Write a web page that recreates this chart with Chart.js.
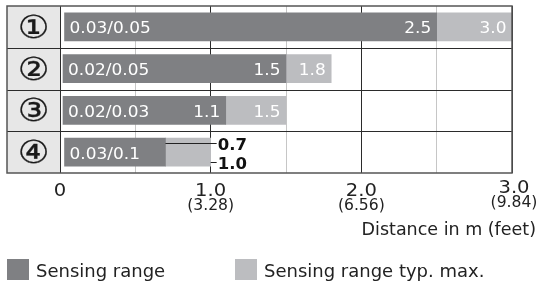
<!DOCTYPE html>
<html>
<head>
<meta charset="utf-8">
<script src="https://cdn.jsdelivr.net/npm/chart.js@4"></script>
<style>
  html, body { margin: 0; padding: 0; background: #fff; }
  canvas { display: block; }
</style>
</head>
<body>
<canvas id="chart" width="541" height="281"></canvas>
<script>
const rows = ["①", "②", "③", "④"];
const minDistance = [0.03, 0.02, 0.02, 0.03];
const minLabels = ["0.03/0.05", "0.02/0.05", "0.02/0.03", "0.03/0.1"];
const sensingRange = [2.5, 1.5, 1.1, 0.7];
const typMax = [3.0, 1.8, 1.5, 1.0];
const meterTicks = [0, 1, 2, 3];
const meterLabels = ["0", "1.0", "2.0", "3.0"];
const feetLabels = ["", "(3.28)", "(6.56)", "(9.84)"];
const seriesNames = ["Sensing range", "Sensing range typ. max."];
const axisTitle = "Distance in m (feet)";

const DARK = "#7f8083";
const LIGHT = "#bcbdc0";
const FONT = '"DejaVu Sans", sans-serif';

// draws text, optionally stretched horizontally (sx) to match the wider figures of the original
function txt(ctx, str, x, y, size, opts = {}) {
  ctx.save();
  ctx.font = (opts.bold ? "bold " : "") + size + "px " + FONT;
  ctx.fillStyle = opts.color || "#222";
  ctx.textBaseline = "alphabetic";
  ctx.textAlign = "left";
  const sx = opts.sx || 1;
  const w = ctx.measureText(str).width * sx;
  let left = x;
  if (opts.align === "right") left = x - w;
  else if (opts.align === "center") left = x - w / 2;
  ctx.translate(left, y);
  ctx.scale(sx, 1);
  ctx.fillText(str, 0, 0);
  if (opts.stroke) {
    ctx.strokeStyle = ctx.fillStyle;
    ctx.lineWidth = opts.stroke;
    ctx.strokeText(str, 0, 0);
  }
  ctx.restore();
  return w;
}

function textWidth(ctx, str, size, sx) {
  ctx.save();
  ctx.font = size + "px " + FONT;
  const w = ctx.measureText(str).width * sx;
  ctx.restore();
  return w;
}

const tablePlugin = {
  id: "table",
  beforeDraw(chart) {
    const { ctx, chartArea: a } = chart;
    ctx.save();
    ctx.fillStyle = "#fff";
    ctx.fillRect(0, 0, chart.width, chart.height);
    ctx.fillStyle = "#e7e7e7";
    ctx.fillRect(7, a.top, a.left - 7, a.bottom - a.top);
    ctx.restore();
  },
  afterDraw(chart) {
    const { ctx, chartArea: a, scales: { x, y } } = chart;

    // row dividers and frame
    ctx.save();
    ctx.strokeStyle = "#2b2b2b";
    ctx.lineWidth = 1;
    for (let i = 0; i < rows.length - 1; i++) {
      const yy = Math.round((y.getPixelForValue(i) + y.getPixelForValue(i + 1)) / 2) + 0.5;
      ctx.beginPath();
      ctx.moveTo(7, yy);
      ctx.lineTo(a.right, yy);
      ctx.stroke();
    }
    ctx.strokeStyle = "#555";
    ctx.lineWidth = 1.5;
    ctx.strokeRect(7, a.top, a.right - 7, a.bottom - a.top);
    ctx.restore();

    // row numbers
    rows.forEach((r, i) => {
      txt(ctx, r, (7 + a.left) / 2, y.getPixelForValue(i) + 11, 32, { align: "center", sx: 1.1, color: "#1a1a1a", stroke: 0.3 });
    });

    // bar labels
    const dark = chart.getDatasetMeta(0).data;
    const light = chart.getDatasetMeta(1).data;
    rows.forEach((r, i) => {
      const d = dark[i], l = light[i];
      const base = d.y + 6.5;
      const rangeTxt = sensingRange[i].toFixed(1);
      const maxTxt = typMax[i].toFixed(1);
      txt(ctx, minLabels[i], d.base + 5, base, 15, { color: "#fff", sx: 1.13 });
      const need = textWidth(ctx, minLabels[i], 15, 1.13) + textWidth(ctx, rangeTxt, 15, 1.13) + 20;
      if (need < d.x - d.base) {
        txt(ctx, rangeTxt, d.x - 5.5, base, 15, { color: "#fff", align: "right", sx: 1.13 });
        txt(ctx, maxTxt, l.x - 5.5, base, 15, { color: "#fff", align: "right", sx: 1.13 });
      } else {
        // values pulled out to the right with leader lines
        const lx = l.x + 7;
        const y1 = d.y - d.height / 2 + 5;
        const y2 = l.y + l.height / 2 - 4;
        ctx.save();
        ctx.strokeStyle = "#222";
        ctx.lineWidth = 1;
        ctx.beginPath();
        ctx.moveTo(d.x, Math.round(y1) + 0.5);
        ctx.lineTo(lx - 1, Math.round(y1) + 0.5);
        ctx.moveTo(l.x, Math.round(y2) + 0.5);
        ctx.lineTo(lx - 1, Math.round(y2) + 0.5);
        ctx.stroke();
        ctx.restore();
        txt(ctx, rangeTxt, lx, y1 + 6.5, 16.5, { bold: true, color: "#111" });
        txt(ctx, maxTxt, lx, y2 + 6.5, 16.5, { bold: true, color: "#111" });
      }
    });

    // x axis labels
    const last = meterTicks.length - 1;
    meterTicks.forEach((v, i) => {
      const px = x.getPixelForValue(v) + (i === last ? 2 : 0);
      const dy = i === last ? -3 : 0;
      txt(ctx, meterLabels[i], px, a.bottom + 23 + dy, 17, { align: "center", sx: 1.15 });
      if (feetLabels[i]) txt(ctx, feetLabels[i], px, a.bottom + 37 + dy, 15, { align: "center", sx: 1.04 });
    });
    txt(ctx, axisTitle, 536, 235, 17.5, { align: "right" });

    // legend
    const colors = [DARK, LIGHT];
    const legendX = [7, 235];
    seriesNames.forEach((name, i) => {
      ctx.fillStyle = colors[i];
      ctx.fillRect(legendX[i], 259, 22, 21);
      txt(ctx, name, legendX[i] + 29, 277.3, 18);
    });
  }
};

new Chart(document.getElementById("chart"), {
  type: "bar",
  data: {
    labels: rows,
    datasets: [
      {
        label: seriesNames[0],
        data: rows.map((_, i) => [minDistance[i], sensingRange[i]]),
        backgroundColor: DARK
      },
      {
        label: seriesNames[1],
        data: rows.map((_, i) => [sensingRange[i], typMax[i]]),
        backgroundColor: LIGHT
      }
    ]
  },
  options: {
    indexAxis: "y",
    responsive: false,
    animation: false,
    devicePixelRatio: 1,
    layout: { padding: { left: 60, right: 29, top: 6, bottom: 108 } },
    datasets: { bar: { grouped: false, barThickness: 28, borderWidth: 0, borderSkipped: false } },
    plugins: { legend: { display: false }, tooltip: { enabled: false } },
    scales: {
      x: {
        type: "linear",
        min: 0,
        max: 3,
        ticks: { display: false, stepSize: 0.5 },
        grid: {
          color: c => (c.tick && c.tick.value % 1 === 0 ? "#2b2b2b" : "#c6c6c6"),
          drawTicks: false
        },
        border: { display: false }
      },
      y: { display: false, offset: true }
    }
  },
  plugins: [tablePlugin]
});
</script>
</body>
</html>
